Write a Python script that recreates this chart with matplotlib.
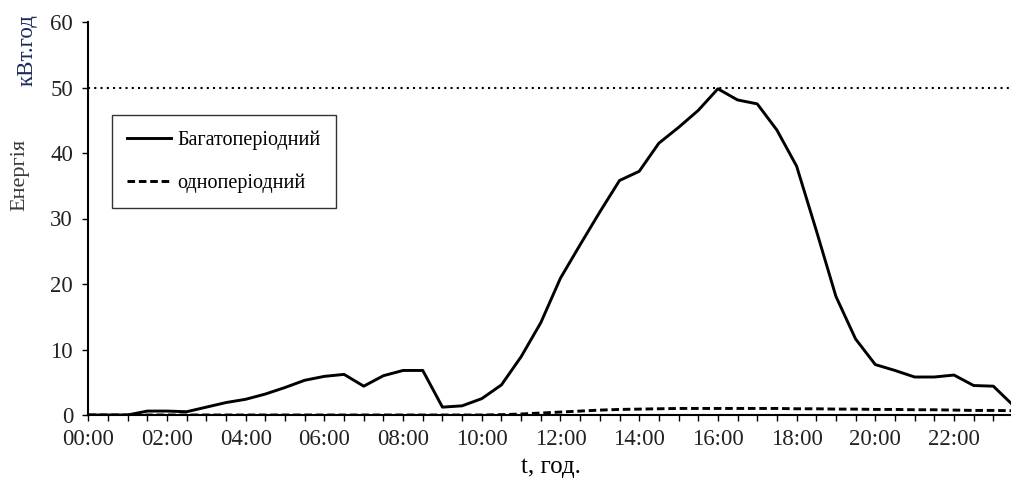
import matplotlib
matplotlib.use("Agg")
import matplotlib.pyplot as plt
from matplotlib.ticker import MultipleLocator, FixedLocator, FixedFormatter

plt.rcParams["font.family"] = ["Liberation Serif", "DejaVu Serif"]

# half-hour steps 00:00 .. 23:30
times = [f"{h:02d}:{m:02d}" for h in range(24) for m in (0, 30)]

multi_period = [0, 0, 0, 0.6, 0.6, 0.5, 1.2, 1.9, 2.4, 3.2, 4.2, 5.3,
                5.9, 6.2, 4.4, 6.0, 6.8, 6.8, 1.2, 1.4, 2.5, 4.6, 8.9, 14.1,
                20.9, 26.0, 31.0, 35.8, 37.2, 41.5, 43.9, 46.5, 49.8, 48.1, 47.5, 43.5,
                38.0, 28.2, 18.1, 11.6, 7.7, 6.8, 5.8, 5.8, 6.1, 4.5, 4.4, 1.5]

single_period = [0, 0, 0, 0, 0, 0, 0, 0, 0, 0, 0, 0,
                 0, 0, 0, 0, 0, 0, 0, 0, 0, 0.05, 0.15, 0.3,
                 0.45, 0.6, 0.75, 0.85, 0.9, 0.95, 1.0, 1.0, 1.0, 1.0, 1.0, 1.0,
                 0.95, 0.95, 0.9, 0.9, 0.85, 0.85, 0.8, 0.8, 0.75, 0.7, 0.7, 0.65]

limit_level = 50

fig = plt.figure(figsize=(10.12, 4.88), dpi=100)
ax = fig.add_axes([88.3 / 1012, 73 / 488, (1013 - 88.3) / 1012, (415 - 22) / 488])

x = list(range(len(times)))
ax.plot(x, multi_period, color="black", linewidth=2.1, label="Багатоперіодний")
ax.plot(x, single_period, color="black", linewidth=2.1, dashes=(2.6, 1.3),
        label="одноперіодний")
ax.axhline(limit_level, color="black", linewidth=1.5, linestyle=(0, (1, 2.0)))

ax.set_xlim(0, len(times) - 1)
ax.set_ylim(0, 60)
ax.yaxis.set_major_locator(MultipleLocator(10))

major = list(range(0, len(times), 4))
ax.xaxis.set_major_locator(FixedLocator(major))
ax.xaxis.set_major_formatter(FixedFormatter([times[i] for i in major]))
ax.xaxis.set_minor_locator(MultipleLocator(1))

for side in ("top", "right"):
    ax.spines[side].set_visible(False)
for side in ("left", "bottom"):
    ax.spines[side].set_linewidth(1.5)

ax.tick_params(axis="both", which="both", direction="out", length=4, width=1,
               colors="black", labelcolor="#222222", labelsize=16.5)
ax.tick_params(axis="x", pad=6)
ax.tick_params(axis="y", pad=7)

leg = ax.legend(loc="upper left", bbox_to_anchor=(111.7 / 1012, 1 - 115 / 488),
                bbox_transform=fig.transFigure, fontsize=14.5, frameon=True,
                fancybox=False, edgecolor="black", borderpad=0.75,
                labelspacing=1.2, handlelength=2.2, handletextpad=0.3,
                borderaxespad=0)
leg.get_frame().set_linewidth(1.0)

fig.text(551 / 1012, 1 - 467 / 488, "t, год.", ha="center", va="center", fontsize=18)
fig.text(20 / 1012, 1 - 175 / 488, "Енергія", rotation=90, ha="center", va="center",
         fontsize=16, color="#3a3a3a")
fig.text(27 / 1012, 1 - 50 / 488, "кВт.год", rotation=90, ha="center", va="center",
         fontsize=16.5, color="#1c2a5a")

fig.savefig("out.png", dpi=100)
